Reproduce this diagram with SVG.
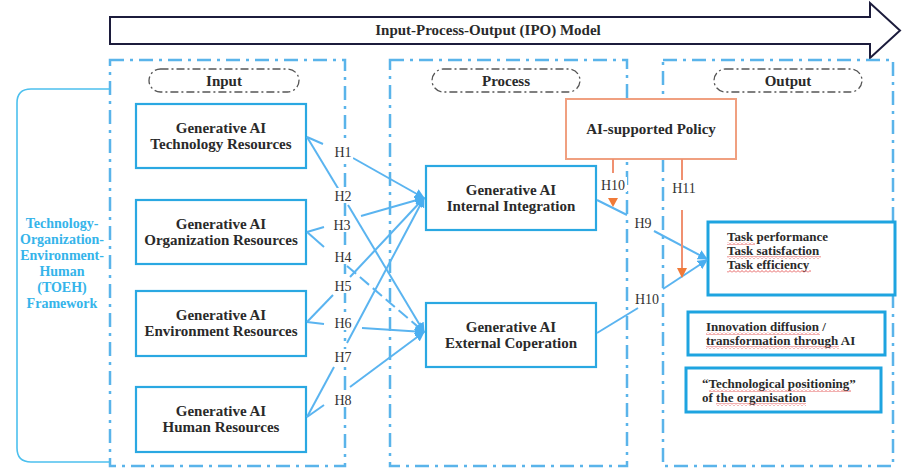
<svg xmlns="http://www.w3.org/2000/svg" width="904" height="470" viewBox="0 0 904 470">
<defs>
<style>
.frame{fill:none;stroke:#5ab4ea;stroke-width:2.5;stroke-dasharray:14 6 3 6}
.pill{fill:#fff;stroke:#555;stroke-width:1.3;stroke-dasharray:8 3 2 3}
.box{fill:#fff;stroke:#2aa8e2;stroke-width:2.2}
.obox{fill:#fff;stroke:#1ea4e0;stroke-width:3}
.pbox{fill:#fff;stroke:#f0a080;stroke-width:2}
.t{font-family:"Liberation Serif","Times New Roman",serif;font-weight:bold;font-size:15px;fill:#2a2a2a;text-anchor:middle}
.ot{font-family:"Liberation Serif","Times New Roman",serif;font-weight:bold;font-size:13px;fill:#2a2a2a}
.h{font-family:"Liberation Serif","Times New Roman",serif;font-size:14px;fill:#333;text-anchor:middle}
.hb{fill:#fff}
.toeh{font-family:"Liberation Serif","Times New Roman",serif;font-weight:bold;font-size:14px;fill:#35b4ea;text-anchor:middle}
.c{fill:none;stroke:#5ab4f0;stroke-width:2}
.oc{fill:none;stroke:#f09070;stroke-width:2}
</style>
<pattern id="zz" width="4" height="3" patternUnits="userSpaceOnUse">
<path d="M0,2.5 L2,0.5 L4,2.5" fill="none" stroke="#e03a3a" stroke-width="0.8"/>
</pattern>
<marker id="ab" viewBox="0 0 10 10" refX="9" refY="5" markerWidth="5" markerHeight="5" orient="auto" markerUnits="strokeWidth">
<path d="M0,0 L10,5 L0,10 z" fill="#4aaef0"/>
</marker>
<marker id="ao" viewBox="0 0 10 10" refX="9" refY="5" markerWidth="5" markerHeight="5" orient="auto" markerUnits="strokeWidth">
<path d="M0,0 L10,5 L0,10 z" fill="#f07a38"/>
</marker>
</defs>
<rect width="904" height="470" fill="#fff"/>

<g id="ipo-arrow">
<polygon points="110,17 870,17 870,3 900,30.5 870,58 870,44 110,44" fill="#fff" stroke="#1c1c3c" stroke-width="2"/>
<text class="t" x="488" y="35" font-size="14">Input-Process-Output (IPO) Model</text>
</g>

<g id="frames">
<rect class="frame" x="110" y="60" width="235" height="406"/>
<rect class="frame" x="390" y="60" width="237" height="406"/>
<rect class="frame" x="663" y="60" width="230" height="406"/>
</g>

<g id="pill-input"><rect class="pill" x="149" y="69" width="150" height="23" rx="11.5"/><text class="t" x="224" y="86">Input</text></g>
<g id="pill-process"><rect class="pill" x="432" y="69" width="148" height="23" rx="11.5"/><text class="t" x="506" y="86">Process</text></g>
<g id="pill-output"><rect class="pill" x="714" y="69" width="148" height="23" rx="11.5"/><text class="t" x="788" y="86">Output</text></g>

<g id="toeh">
<path d="M110,89 H31 Q17,89 17,103 V448 Q17,462 31,462 H110" fill="none" stroke="#4cc0ee" stroke-width="1.6"/>
<text class="toeh" x="62" y="228">Technology-</text>
<text class="toeh" x="62" y="244">Organization-</text>
<text class="toeh" x="62" y="260">Environment-</text>
<text class="toeh" x="62" y="276">Human</text>
<text class="toeh" x="62" y="292">(TOEH)</text>
<text class="toeh" x="62" y="308">Framework</text>
</g>

<g id="n-tech"><rect class="box" x="136" y="104" width="170" height="64"/><text class="t" x="221" y="133">Generative AI</text><text class="t" x="221" y="149">Technology Resources</text></g>
<g id="n-org"><rect class="box" x="136" y="200" width="170" height="64"/><text class="t" x="221" y="229">Generative AI</text><text class="t" x="221" y="245">Organization Resources</text></g>
<g id="n-env"><rect class="box" x="136" y="291" width="170" height="65"/><text class="t" x="221" y="320">Generative AI</text><text class="t" x="221" y="336">Environment Resources</text></g>
<g id="n-human"><rect class="box" x="136" y="387" width="170" height="65"/><text class="t" x="221" y="416">Generative AI</text><text class="t" x="221" y="432">Human Resources</text></g>

<g id="n-internal"><rect class="box" x="426" y="166" width="170" height="64"/><text class="t" x="511" y="195">Generative AI</text><text class="t" x="511" y="211">Internal Integration</text></g>
<g id="n-external"><rect class="box" x="426" y="303" width="170" height="64"/><text class="t" x="511" y="332">Generative AI</text><text class="t" x="511" y="348">External Coperation</text></g>

<g id="n-policy"><rect class="pbox" x="566" y="99" width="170" height="60"/><text class="t" x="651" y="134">AI-supported Policy</text></g>

<g id="n-task"><rect class="obox" x="708" y="222" width="187" height="73"/>
<text class="ot" x="727" y="241">Task performance</text>
<text class="ot" x="727" y="255">Task satisfaction</text>
<text class="ot" x="727" y="269">Task efficiency</text>
<rect x="727" y="242" width="28" height="3" fill="url(#zz)"/>
<rect x="727" y="256" width="94" height="3" fill="url(#zz)"/>
<rect x="727" y="270" width="84" height="3" fill="url(#zz)"/>
</g>
<g id="n-innovation"><rect class="obox" x="688" y="312" width="197" height="43"/>
<text class="ot" x="706" y="331">Innovation diffusion /</text>
<text class="ot" x="706" y="345">transformation through AI</text>
<rect x="706" y="332" width="114" height="3" fill="url(#zz)"/>
<rect x="706" y="346" width="133" height="3" fill="url(#zz)"/>
</g>
<g id="n-positioning"><rect class="obox" x="686" y="368" width="195" height="44"/>
<text class="ot" x="702" y="388">“Technological positioning”</text>
<text class="ot" x="702" y="402">of the organisation</text>
<rect x="709" y="389" width="142" height="3" fill="url(#zz)"/>
<rect x="716" y="403" width="90" height="3" fill="url(#zz)"/>
</g>

<g id="connectors">
<path class="c" d="M307,137 L323,144"/><path class="c" d="M353,158 L424,198" marker-end="url(#ab)"/>
<path class="c" d="M307,137 L339,190"/><path class="c" d="M348,205 L424,332" marker-end="url(#ab)"/>
<path class="c" d="M307,232 L324,227"/><path class="c" d="M361,216 L424,198" marker-end="url(#ab)"/>
<path class="c" d="M307,232 L324,247"/><path class="c" d="M347,266 L424,332" stroke-dasharray="12 5" marker-end="url(#ab)"/>
<path class="c" d="M307,322 L333,295"/><path class="c" d="M350,277 L424,198" marker-end="url(#ab)"/>
<path class="c" d="M307,322 L324,324"/><path class="c" d="M362,328 L424,332" marker-end="url(#ab)"/>
<path class="c" d="M307,417 L334,367"/><path class="c" d="M347,343 L424,198" marker-end="url(#ab)"/>
<path class="c" d="M307,417 L324,405"/><path class="c" d="M350,387 L424,332" marker-end="url(#ab)"/>
<path class="c" d="M597,200 L627,215"/><path class="c" d="M654,231 L707,259" marker-end="url(#ab)"/>
<path class="c" d="M597,333 L638,308"/><path class="c" d="M663,289 L707,260" marker-end="url(#ab)"/>
<path class="oc" d="M613,159 V173"/><polygon points="608,198 618,198 613,207" fill="#f07a38"/>
<path class="oc" d="M682,159 V181"/><path class="oc" d="M682,210 V277" marker-end="url(#ao)"/>
<rect class="hb" x="333" y="144" width="20" height="15"/><text class="h" x="343" y="157">H1</text>
<rect class="hb" x="333" y="188" width="20" height="15"/><text class="h" x="343" y="201">H2</text>
<rect class="hb" x="332" y="217" width="20" height="15"/><text class="h" x="342" y="230">H3</text>
<rect class="hb" x="333" y="249" width="20" height="15"/><text class="h" x="343" y="262">H4</text>
<rect class="hb" x="333" y="278" width="20" height="15"/><text class="h" x="343" y="291">H5</text>
<rect class="hb" x="333" y="315" width="20" height="15"/><text class="h" x="343" y="328">H6</text>
<rect class="hb" x="333" y="349" width="20" height="15"/><text class="h" x="343" y="362">H7</text>
<rect class="hb" x="333" y="392" width="20" height="15"/><text class="h" x="343" y="405">H8</text>
<rect class="hb" x="633" y="215" width="20" height="15"/><text class="h" x="643" y="228">H9</text>
<rect class="hb" x="633" y="291" width="28" height="15"/><text class="h" x="647" y="304">H10</text>
<rect class="hb" x="599" y="177" width="28" height="15"/><text class="h" x="613" y="190">H10</text>
<rect class="hb" x="670" y="180" width="28" height="15"/><text class="h" x="684" y="193">H11</text>
</g>
</svg>
